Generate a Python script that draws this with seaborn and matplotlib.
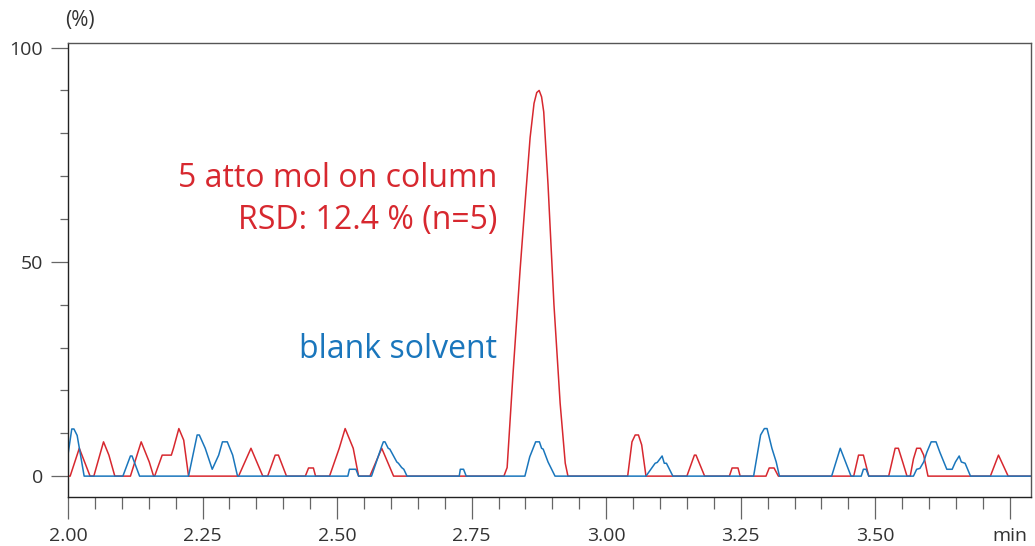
import numpy as np
import pandas as pd
import matplotlib
matplotlib.use("Agg")
import matplotlib.pyplot as plt
import seaborn as sns
from matplotlib.ticker import MultipleLocator, FixedLocator

# sample trace: 5 atto mol on column (red)
red_t = [2.000, 2.004, 2.021, 2.041, 2.048, 2.066, 2.076, 2.087, 2.116, 2.136,
         2.151, 2.159, 2.161, 2.175, 2.192, 2.196, 2.206, 2.215, 2.224, 2.317,
         2.340, 2.362, 2.371, 2.385, 2.391, 2.406, 2.441, 2.447, 2.456, 2.460,
         2.486, 2.504, 2.515, 2.530, 2.540, 2.561, 2.583, 2.605, 2.810, 2.816,
         2.827, 2.840, 2.8495, 2.8587, 2.866, 2.871, 2.8755, 2.880, 2.884, 2.892,
         2.903, 2.9145, 2.924, 2.929, 3.040, 3.048, 3.054, 3.060, 3.066, 3.074,
         3.150, 3.164, 3.167, 3.183, 3.229, 3.234, 3.245, 3.249, 3.297, 3.303,
         3.312, 3.320, 3.460, 3.469, 3.478, 3.488, 3.525, 3.537, 3.543, 3.551,
         3.559, 3.565, 3.571, 3.577, 3.584, 3.590, 3.598, 3.714, 3.729, 3.747,
         3.790]
red_v = [0, 0, 6.5, 0, 0, 8, 4.9, 0, 0, 8,
         3.3, 0, 0, 4.9, 4.9, 6.5, 11.1, 8.4, 0, 0,
         6.5, 0, 0, 4.9, 4.9, 0, 0, 1.9, 1.9, 0,
         0, 6.5, 11.1, 6.5, 0, 0, 6.5, 0, 0, 2,
         24, 48, 64, 79, 87, 89.5, 90, 88.5, 85, 68,
         40, 17, 3, 0, 0, 8, 9.6, 9.6, 7.3, 0,
         0, 4.9, 4.9, 0, 0, 1.9, 1.9, 0, 0, 1.9,
         1.9, 0, 0, 4.9, 4.9, 0, 0, 6.5, 6.5, 3.3,
         0, 0, 4, 6.5, 6.5, 4.9, 0, 0, 4.9, 0,
         0]

# blank solvent trace (blue)
blue_t = [2.000, 2.007, 2.011, 2.017, 2.030, 2.102, 2.116, 2.119, 2.133, 2.224,
          2.240, 2.244, 2.255, 2.268, 2.280, 2.287, 2.296, 2.306, 2.315, 2.520,
          2.523, 2.535, 2.540, 2.564, 2.583, 2.586, 2.589, 2.595, 2.598, 2.611,
          2.614, 2.620, 2.624, 2.630, 2.727, 2.729, 2.735, 2.740, 2.849, 2.858,
          2.869, 2.876, 2.880, 2.883, 2.892, 2.905, 3.074, 3.091, 3.095, 3.104,
          3.108, 3.112, 3.124, 3.274, 3.287, 3.294, 3.299, 3.308, 3.316, 3.322,
          3.419, 3.435, 3.455, 3.474, 3.478, 3.483, 3.488, 3.571, 3.577, 3.583,
          3.590, 3.596, 3.604, 3.613, 3.620, 3.633, 3.643, 3.649, 3.656, 3.660,
          3.667, 3.677, 3.790]
blue_v = [5, 11, 11, 9.5, 0, 0, 4.7, 4.7, 0, 0,
          9.6, 9.6, 6.5, 1.6, 4.9, 8, 8, 4.9, 0, 0,
          1.6, 1.6, 0, 0, 7, 8, 8, 6.5, 6.3, 3.3,
          3, 2, 1.6, 0, 0, 1.6, 1.6, 0, 0, 4.5,
          8, 8, 6.5, 6.3, 3.3, 0, 0, 3, 3.2, 4.7,
          3, 3, 0, 0, 9.6, 11.1, 11.1, 6.5, 3.3, 0,
          0, 6.5, 0, 0, 1.6, 1.6, 0, 0, 1.6, 1.8,
          3.3, 5.6, 8, 8, 5.6, 1.6, 1.6, 3.3, 4.7, 3.3,
          3, 0, 0]

x_ticks = [2.00, 2.25, 2.50, 2.75, 3.00, 3.25, 3.50, 3.75]
x_tick_labels = ["2.00", "2.25", "2.50", "2.75", "3.00", "3.25", "3.50", "min"]
y_ticks = [0, 50, 100]

red = "#d7282f"
blue = "#1a76bc"
grey_text = "#333333"

sns.set_style("white")
plt.rcParams["font.family"] = ["Open Sans", "DejaVu Sans"]

fig = plt.figure(figsize=(10.35, 5.46), dpi=100)
ax = fig.add_axes([0.0657, 0.0903, 0.9302, 0.8304])

sns.lineplot(x=red_t, y=red_v, color=red, linewidth=1.1, ax=ax)
sns.lineplot(x=blue_t, y=blue_v, color=blue, linewidth=1.1, ax=ax)

ax.set_xlim(2.0, 3.789)
ax.set_ylim(-4.8, 101)

ax.xaxis.set_major_locator(FixedLocator(x_ticks))
ax.set_xticklabels(x_tick_labels)
ax.xaxis.set_minor_locator(MultipleLocator(0.05))
ax.yaxis.set_major_locator(FixedLocator(y_ticks))
ax.yaxis.set_minor_locator(MultipleLocator(10))

ax.tick_params(axis="x", which="major", direction="out", length=15.5, width=0.9,
               color="#666666", labelsize=14, labelcolor=grey_text, pad=6, bottom=True)
ax.tick_params(axis="x", which="minor", direction="out", length=8.4, width=0.9,
               color="#666666", bottom=True)
ax.tick_params(axis="y", which="major", direction="out", length=12, width=0.9,
               color="#666666", labelsize=14, labelcolor=grey_text, pad=6, left=True)
ax.tick_params(axis="y", which="minor", direction="out", length=6, width=0.9,
               color="#666666", left=True)

for side in ["left", "bottom"]:
    ax.spines[side].set_color("#222222")
    ax.spines[side].set_linewidth(1.0)
for side in ["top", "right"]:
    ax.spines[side].set_color("#555555")
    ax.spines[side].set_linewidth(1.0)

ax.text(0.0125, 1.05, "(%)", transform=ax.transAxes, ha="center", va="center",
        fontsize=15, color=grey_text)

ax.text(2.797, 67.5, "5 atto mol on column", color=red, fontsize=23,
        ha="right", va="baseline")
ax.text(2.797, 57.7, "RSD: 12.4 % (n=5)", color=red, fontsize=23,
        ha="right", va="baseline")
ax.text(2.797, 27.5, "blank solvent", color=blue, fontsize=23,
        ha="right", va="baseline")

fig.savefig("out.png", dpi=100)
